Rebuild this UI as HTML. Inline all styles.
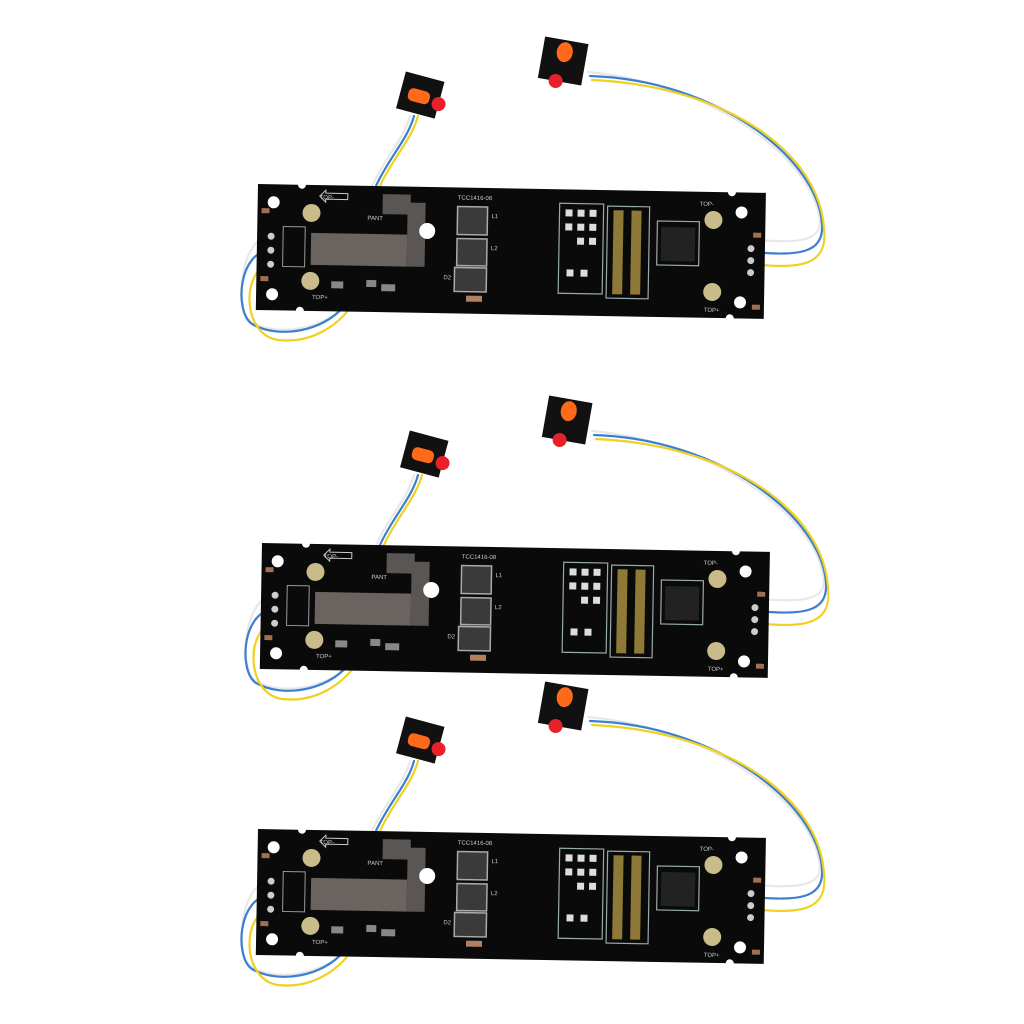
<!DOCTYPE html>
<html><head><style>html,body{margin:0;padding:0;background:#fff}svg{display:block}</style></head><body>
<svg width="1024" height="1024" viewBox="0 0 1024 1024" xmlns="http://www.w3.org/2000/svg">
<defs>
<g id="unit">
  <!-- wires -->
  <g fill="none" stroke-width="2.2" stroke-linecap="round">
    <path d="M494,56 C530,58 560,60 562,40 C560,-20 460,-100 330,-112" stroke="#e8e8e8"/>
    <path d="M494,68 C540,72 566,70 564,40 C560,-25 460,-104 332,-108" stroke="#3b7fd0"/>
    <path d="M494,80 C545,86 570,80 566,45 C562,-30 470,-98 334,-104" stroke="#f0d020"/>
    <path d="M14,52 C-18,52 -22,120 -10,135 C10,152 60,150 90,120" stroke="#e8e8e8"/>
    <path d="M14,66 C-20,66 -24,128 -6,140 C20,155 65,148 86,122" stroke="#3b7fd0"/>
    <path d="M14,80 C-16,82 -18,150 20,156 C55,160 80,140 92,124" stroke="#f0d020"/>
    <path d="M114,2 C126,-25 146,-45 152,-68" stroke="#e8e8e8"/>
    <path d="M118,2 C130,-25 150,-45 156,-68" stroke="#3b7fd0"/>
    <path d="M122,2 C134,-25 154,-45 160,-68" stroke="#f0d020"/>
  </g>
  <!-- board -->
  <g transform="rotate(1)">
  <path d="M0,0 H40 a4,4 0 0 0 8,0 H470 a4,4 0 0 0 8,0 H508 V126 H478 a4,4 0 0 0 -8,0 H48 a4,4 0 0 0 -8,0 H0 Z" fill="#0a0a0a"/>
  <circle cx="16" cy="18" r="6" fill="#fff"/><circle cx="16" cy="110" r="6" fill="#fff"/>
  <circle cx="484" cy="20" r="6" fill="#fff"/><circle cx="484" cy="110" r="6" fill="#fff"/>
  <g fill="#c9bc8a"><circle cx="54" cy="28" r="9"/><circle cx="54" cy="96" r="9"/><circle cx="456" cy="28" r="9"/><circle cx="456" cy="100" r="9"/></g>
  <g fill="#a07050"><rect x="4" y="24" width="8" height="5"/><rect x="4" y="92" width="8" height="5"/><rect x="496" y="40" width="8" height="5"/><rect x="496" y="112" width="8" height="5"/></g>
  <g fill="#ccc"><circle cx="14" cy="52" r="3.5"/><circle cx="14" cy="66" r="3.5"/><circle cx="14" cy="80" r="3.5"/><circle cx="494" cy="56" r="3.5"/><circle cx="494" cy="68" r="3.5"/><circle cx="494" cy="80" r="3.5"/></g>
  <rect x="26" y="42" width="22" height="40" fill="none" stroke="#999" stroke-width="1"/>
  <path d="M54,48 H150 V80 H54 Z" fill="#6a6360"/>
  <rect x="125" y="8" width="28" height="20" fill="#5a5654"/>
  <rect x="150" y="16" width="18" height="64" fill="#5a5654"/>
  <circle cx="170" cy="44" r="8" fill="#fff"/>
  <g fill="#3a3a3a" stroke="#aaa" stroke-width="1.5"><rect x="200" y="19" width="30" height="28"/><rect x="200" y="51" width="30" height="27"/><rect x="198" y="80" width="32" height="24"/></g>
  <rect x="210" y="108" width="16" height="6" fill="#b08060"/>
  <rect x="75" y="96" width="12" height="7" fill="#888"/><rect x="110" y="94" width="10" height="7" fill="#888"/><rect x="125" y="98" width="14" height="7" fill="#888"/>
  <g stroke="#9aa" stroke-width="1.2" fill="none"><rect x="302" y="14" width="44" height="90"/><rect x="350" y="16" width="42" height="92"/><rect x="400" y="30" width="42" height="44"/></g>
  <g fill="#ddd"><rect x="308" y="20" width="7" height="7"/><rect x="320" y="20" width="7" height="7"/><rect x="332" y="20" width="7" height="7"/><rect x="308" y="34" width="7" height="7"/><rect x="320" y="34" width="7" height="7"/><rect x="332" y="34" width="7" height="7"/><rect x="320" y="48" width="7" height="7"/><rect x="332" y="48" width="7" height="7"/><rect x="310" y="80" width="7" height="7"/><rect x="324" y="80" width="7" height="7"/></g>
  <g fill="#c8a848"><rect x="356" y="20" width="10" height="84" opacity=".7"/><rect x="374" y="20" width="10" height="84" opacity=".7"/></g>
  <rect x="404" y="36" width="34" height="34" fill="#222"/>
  <g fill="#ccc" font-family="Liberation Sans, sans-serif" font-size="6"><text x="62" y="14">TOP-</text><text x="56" y="114">TOP+</text><text x="200" y="12">TCC1416-08</text><text x="110" y="34">PANT</text><text x="442" y="14">TOP-</text><text x="448" y="120">TOP+</text><text x="234" y="30">L1</text><text x="234" y="62">L2</text><text x="187" y="92">D2</text></g>
  <path d="M68,8 h22 v6 h-22 l0,3 l-6,-6 l6,-6z" fill="none" stroke="#ccc" stroke-width="1"/>
  </g>
  <!-- LED modules -->
  <g transform="translate(162,-88) rotate(15)">
    <rect x="-20" y="-20" width="40" height="38" fill="#111"/>
    <rect x="-12" y="-6" width="22" height="13" rx="5" fill="#ff6a1a"/>
    <circle cx="20" cy="3" r="7" fill="#e8202a"/>
  </g>
  <g transform="translate(305,-122) rotate(10)">
    <rect x="-22" y="-22" width="44" height="42" fill="#111"/>
    <ellipse cx="0" cy="-10" rx="8" ry="10" fill="#ff6a1a"/>
    <circle cx="-4" cy="20" r="7" fill="#e8202a"/>
  </g>
</g>
</defs>
<use href="#unit" transform="translate(258,184)"/>
<use href="#unit" transform="translate(262,543)"/>
<use href="#unit" transform="translate(258,829)"/>
</svg>
</body></html>
